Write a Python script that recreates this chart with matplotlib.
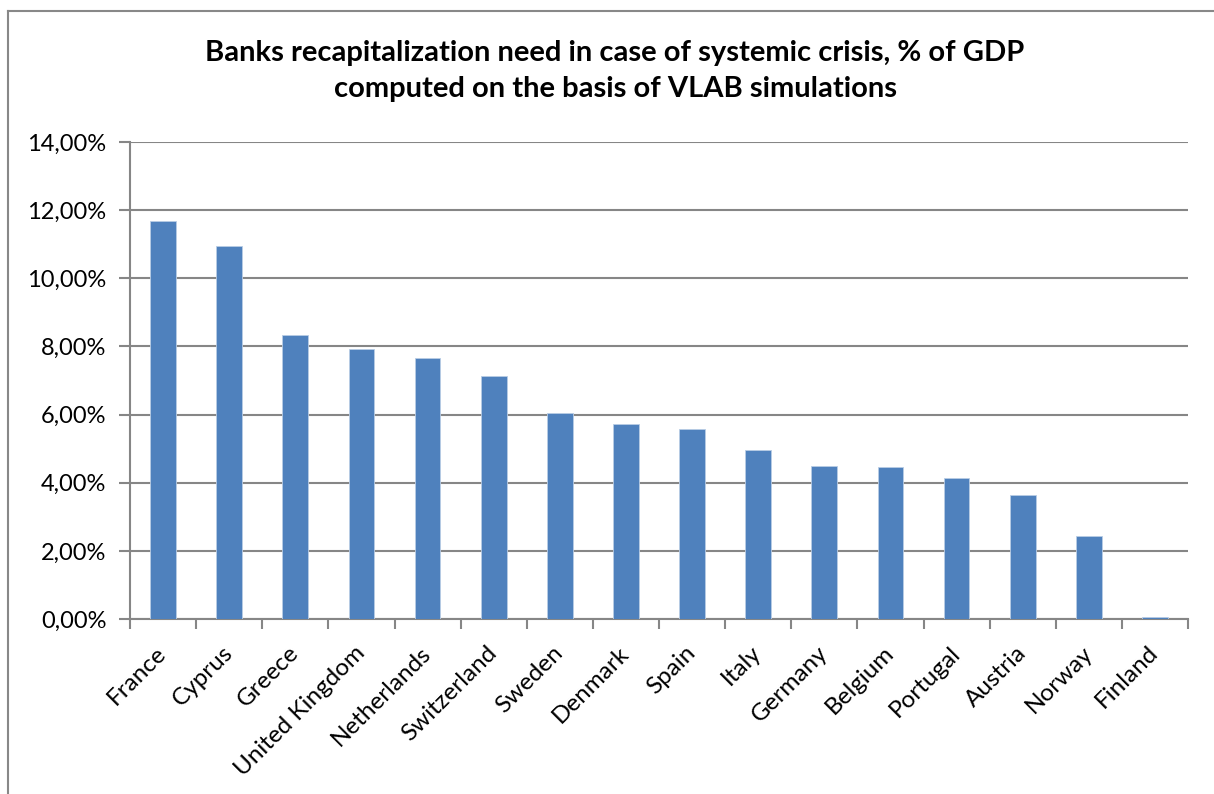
import matplotlib
matplotlib.use("Agg")
import matplotlib.pyplot as plt
from matplotlib.ticker import FuncFormatter
from matplotlib.lines import Line2D

plt.rcParams['font.family'] = ['Lato', 'DejaVu Sans']

# values (% of GDP)
countries = ["France", "Cyprus", "Greece", "United Kingdom", "Netherlands",
             "Switzerland", "Sweden", "Denmark", "Spain", "Italy", "Germany",
             "Belgium", "Portugal", "Austria", "Norway", "Finland"]
need_pct = [11.67, 10.95, 8.34, 7.92, 7.65, 7.13, 6.05, 5.72, 5.57, 4.97,
            4.48, 4.47, 4.14, 3.65, 2.45, 0.05]
y_ticks = [0, 2, 4, 6, 8, 10, 12, 14]

title = ("Banks recapitalization need in case of systemic crisis, % of GDP\n"
         "computed on the basis of VLAB simulations")

grey = "#868686"

fig = plt.figure(figsize=(12.14, 7.94), dpi=100)
ax = fig.add_axes([130 / 1214, 1 - 619 / 794, 1058 / 1214, 477 / 794])

x = range(len(countries))
ax.bar(x, need_pct, width=0.39, color="#4F81BD", edgecolor="#B9CDE5",
       linewidth=0.6, zorder=3)

ax.set_xlim(-0.5, len(countries) - 0.5)
ax.set_ylim(0, 14)
ax.set_yticks(y_ticks)
ax.yaxis.set_major_formatter(FuncFormatter(lambda v, p: f"{v:.2f}%".replace(".", ",")))
ax.grid(axis="y", color=grey, linewidth=1.5, zorder=0)

# category boundary ticks on x, names sit on minor ticks at bar centres
ax.set_xticks([i - 0.5 for i in range(len(countries) + 1)])
ax.set_xticklabels([])
ax.set_xticks(list(x), minor=True)
ax.set_xticklabels(countries, minor=True, rotation=45, ha="right", va="center",
                   rotation_mode="anchor", fontsize=17.5)
ax.tick_params(axis="x", which="minor", length=0, pad=22)
ax.tick_params(axis="x", which="major", length=7, width=1.5, color=grey)
ax.tick_params(axis="y", length=8, width=1.5, color=grey, labelsize=17, pad=9)

for side in ["top", "right"]:
    ax.spines[side].set_visible(False)
for side in ["left", "bottom"]:
    ax.spines[side].set_color(grey)
    ax.spines[side].set_linewidth(1.5)

fig.text(615 / 1214, 1 - 71 / 794, title, ha="center", va="center",
         fontsize=21, fontweight="bold", linespacing=1.5)

# chart-area border (top and left only visible)
fig.add_artist(Line2D([8 / 1214, 8 / 1214], [0, 1 - 11 / 794],
                      transform=fig.transFigure, color="#888888", linewidth=1.5))
fig.add_artist(Line2D([8 / 1214, 1], [1 - 11 / 794, 1 - 11 / 794],
                      transform=fig.transFigure, color="#888888", linewidth=1.5))

fig.savefig("out.png", dpi=100)
